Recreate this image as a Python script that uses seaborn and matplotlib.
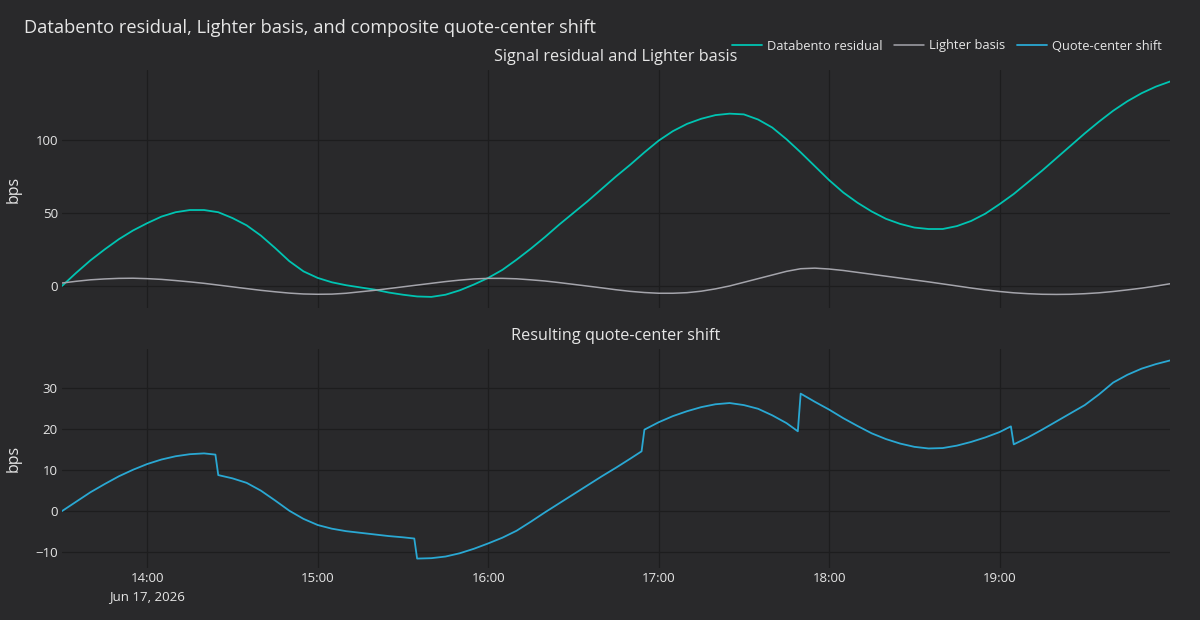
import pandas as pd
import matplotlib
matplotlib.use("Agg")
import matplotlib.pyplot as plt
import matplotlib.dates as mdates
from matplotlib.ticker import FuncFormatter
import seaborn as sns

# 5-minute samples, 13:30 -> 20:00 on Jun 17, 2026
times = pd.date_range("2026-06-17 13:30", "2026-06-17 20:00", freq="5min")

databento_residual = [
    0, 9, 17.5, 25, 32, 38,
    43, 47.5, 50.5, 52, 52, 50.5, 46.5, 41.5, 34.5, 26, 17, 10,
    5.5, 2.5, 0.5, -1, -2.5, -4.5, -6, -7.2, -7.5, -6, -3, 1,
    5.5, 11, 18, 25.5, 33.5, 42, 50, 58, 66.5, 75, 83, 91.5,
    99.5, 106, 111, 114.5, 117, 118, 117.5, 114, 108.5, 100.5, 91.5, 82,
    72.5, 64, 57, 51, 46, 42.5, 40, 39, 39, 41, 44.5, 49.5,
    56, 63, 71, 79, 87.5, 96, 104.5, 112.5, 120, 126.5, 132, 136.5,
    140,
]

lighter_basis = [
    2, 3.2, 4.2, 4.8, 5.2, 5.3,
    5, 4.5, 3.7, 2.8, 1.8, 0.6, -0.6, -1.8, -3, -4, -4.9, -5.5,
    -5.7, -5.6, -5, -4, -3, -1.8, -0.6, 0.6, 1.8, 3, 4, 4.8,
    5.2, 5.2, 4.9, 4.2, 3.4, 2.3, 1.1, -0.1, -1.3, -2.6, -3.7, -4.5,
    -5, -5, -4.6, -3.6, -2, 0, 2.5, 5, 7.5, 10, 11.8, 12.2,
    11.6, 10.6, 9.3, 8, 6.7, 5.4, 4.1, 2.8, 1.4, 0, -1.4, -2.7,
    -3.8, -4.7, -5.3, -5.7, -5.8, -5.7, -5.3, -4.7, -3.8, -2.7, -1.5, -0.1,
    1.5,
]

shift_times = [
    "13:30", "13:35", "13:40", "13:45", "13:50", "13:55", "14:00", "14:05",
    "14:10", "14:15", "14:20", "14:24", "14:25", "14:30", "14:35", "14:40",
    "14:45", "14:50", "14:55", "15:00", "15:05", "15:10", "15:15", "15:20",
    "15:25", "15:30", "15:34", "15:35", "15:40", "15:45", "15:50", "15:55",
    "16:00", "16:05", "16:10", "16:15", "16:20", "16:25", "16:30", "16:35",
    "16:40", "16:45", "16:50", "16:54", "16:55", "17:00", "17:05", "17:10",
    "17:15", "17:20", "17:25", "17:30", "17:35", "17:40", "17:45", "17:49",
    "17:50", "17:55", "18:00", "18:05", "18:10", "18:15", "18:20", "18:25",
    "18:30", "18:35", "18:40", "18:45", "18:50", "18:55", "19:00", "19:04",
    "19:05", "19:10", "19:15", "19:20", "19:25", "19:30", "19:35", "19:40",
    "19:45", "19:50", "19:55", "20:00",
]
quote_center_shift = [
    0, 2.3, 4.6, 6.6, 8.5, 10.1, 11.5, 12.6,
    13.4, 13.9, 14.1, 13.8, 8.8, 8.0, 6.9, 5.0,
    2.6, 0.1, -1.9, -3.4, -4.3, -4.9, -5.3, -5.7,
    -6.1, -6.4, -6.7, -11.6, -11.5, -11.1, -10.3, -9.2,
    -7.9, -6.5, -4.8, -2.6, -0.3, 1.9, 4.1, 6.3,
    8.5, 10.6, 12.8, 14.6, 19.9, 21.7, 23.2, 24.4,
    25.4, 26.1, 26.4, 25.9, 25.0, 23.4, 21.5, 19.5,
    28.7, 26.7, 24.8, 22.7, 20.8, 19.0, 17.6, 16.5,
    15.7, 15.3, 15.4, 16.0, 16.9, 18.0, 19.3, 20.7,
    16.3, 18.0, 19.9, 21.9, 23.9, 25.9, 28.5, 31.4,
    33.3, 34.8, 35.9, 36.8,
]

hour_ticks = pd.to_datetime(["2026-06-17 14:00", "2026-06-17 15:00", "2026-06-17 16:00",
                             "2026-06-17 17:00", "2026-06-17 18:00", "2026-06-17 19:00"])

top = pd.DataFrame({"time": times, "residual": databento_residual, "basis": lighter_basis})
bottom = pd.DataFrame({
    "time": pd.to_datetime(["2026-06-17 " + t for t in shift_times]),
    "shift": quote_center_shift,
})

BG = "#29292b"
GRID = "#1d1d1e"
TXT = "#e6e6e6"
C_RES = "#00c4b2"
C_BAS = "#a4a4ab"
C_SHIFT = "#2aa8d3"

sns.set_theme(style="dark")
plt.rcParams["font.family"] = ["Open Sans", "DejaVu Sans"]
plt.rcParams["axes.facecolor"] = BG
plt.rcParams["figure.facecolor"] = BG

fig = plt.figure(figsize=(12, 6.2), dpi=100)
ax1 = fig.add_axes([62 / 1200, 1 - 308 / 620, 1108 / 1200, 238 / 620])
ax2 = fig.add_axes([62 / 1200, 1 - 568 / 620, 1108 / 1200, 219 / 620])

sns.lineplot(data=top, x="time", y="residual", ax=ax1, color=C_RES, lw=1.3, label="Databento residual")
sns.lineplot(data=top, x="time", y="basis", ax=ax1, color=C_BAS, lw=1.1, label="Lighter basis")
sns.lineplot(data=bottom, x="time", y="shift", ax=ax2, color=C_SHIFT, lw=1.3, label="Quote-center shift")

xmin = pd.Timestamp("2026-06-17 13:30")
xmax = pd.Timestamp("2026-06-17 20:00")
ax1.set_ylim(-15.1, 147.9)
ax2.set_ylim(-13.9, 39.6)
ax1.set_yticks([0, 50, 100])
ax2.set_yticks([-10, 0, 10, 20, 30])

first_tick = mdates.date2num(hour_ticks[0])


def fmt_time(x, pos):
    s = mdates.num2date(x).strftime("%H:%M")
    if abs(x - first_tick) < 1e-6:
        s += "\nJun 17, 2026"
    return s


for ax in (ax1, ax2):
    ax.set_xlim(xmin, xmax)
    ax.set_xticks(hour_ticks)
    ax.grid(True, color=GRID, lw=0.9)
    ax.set_axisbelow(True)
    for s in ax.spines.values():
        s.set_visible(False)
    ax.tick_params(length=0, colors=TXT, labelsize=9.5)
    ax.tick_params(axis="y", pad=3)
    ax.set_xlabel("")
    ax.set_ylabel("")
    ax.get_legend().remove()

ax1.tick_params(axis="x", labelbottom=False)
ax2.xaxis.set_major_formatter(FuncFormatter(fmt_time))
ax2.tick_params(axis="x", pad=3)
for lab in ax2.get_xticklabels():
    lab.set_linespacing(1.5)

fig.text(24 / 1200, 1 - 28 / 620, "Databento residual, Lighter basis, and composite quote-center shift",
         color=TXT, fontsize=13.15, ha="left", va="center")
fig.text(616 / 1200, 1 - 57 / 620, "Signal residual and Lighter basis",
         color=TXT, fontsize=11.7, ha="center", va="center")
fig.text(616 / 1200, 1 - 336 / 620, "Resulting quote-center shift",
         color=TXT, fontsize=11.7, ha="center", va="center")
fig.text(14 / 1200, 1 - 189 / 620, "bps", color=TXT, fontsize=11.5, rotation=90, ha="center", va="center")
fig.text(14 / 1200, 1 - 458 / 620, "bps", color=TXT, fontsize=11.5, rotation=90, ha="center", va="center")

handles = ax1.get_lines()[:2] + ax2.get_lines()[:1]
leg = fig.legend(handles, ["Databento residual", "Lighter basis", "Quote-center shift"],
                 loc="center right", bbox_to_anchor=(1171 / 1200, 1 - 46 / 620), ncol=3,
                 frameon=False, fontsize=9.3, handlelength=2.35, handletextpad=0.4,
                 columnspacing=0.85, borderpad=0.2)
for t in leg.get_texts():
    t.set_color(TXT)

fig.savefig("out.png", dpi=100, facecolor=BG)
